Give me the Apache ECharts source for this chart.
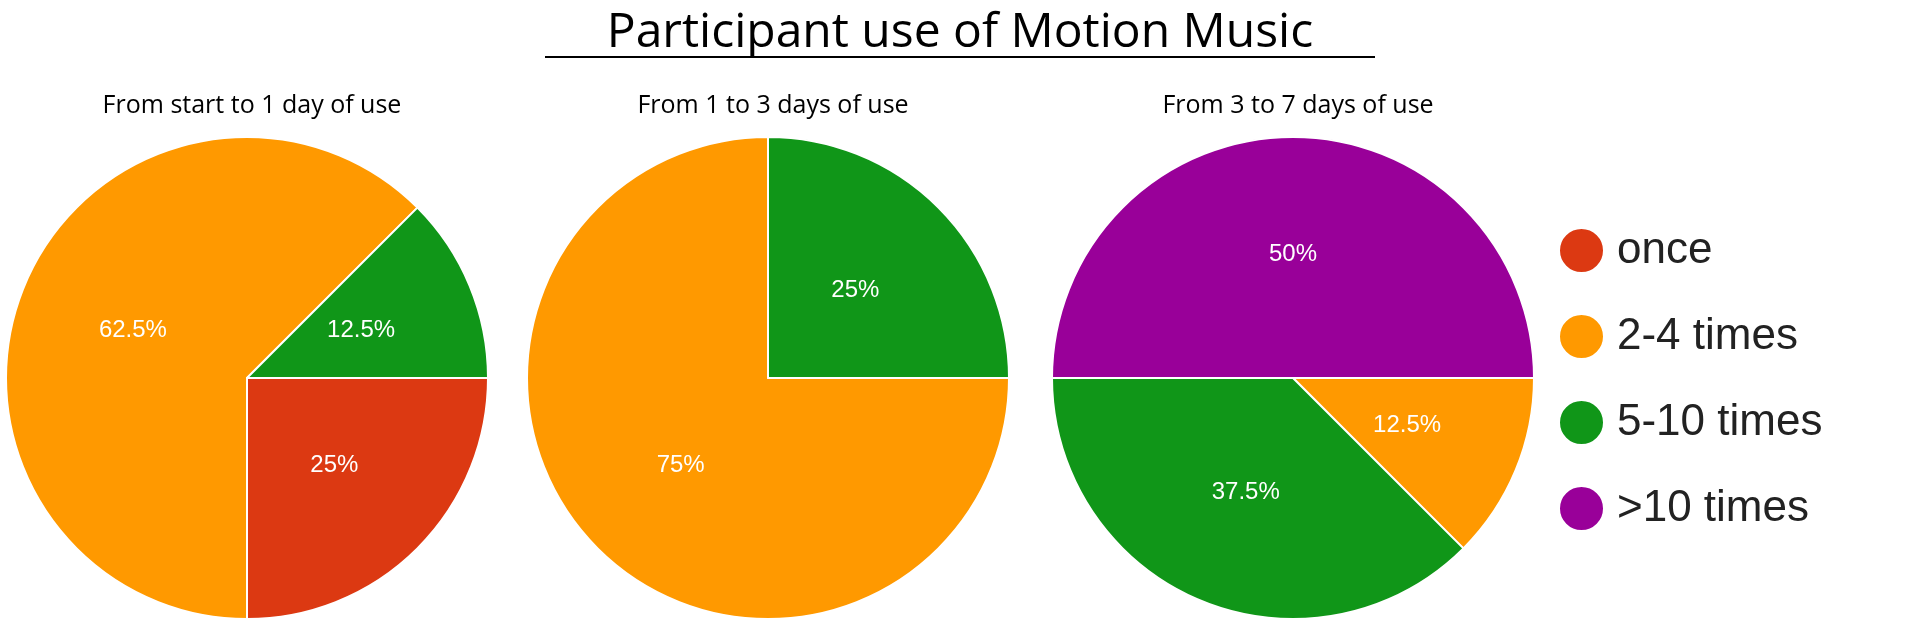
<!DOCTYPE html>
<html>
<head>
<meta charset="utf-8">
<script src="https://cdn.jsdelivr.net/npm/echarts@6/dist/echarts.min.js"></script>
<style>
  html, body { margin: 0; padding: 0; background: #fff; }
  #chart { width: 1920px; height: 627px; }
</style>
</head>
<body>
<div id="chart"></div>
<script>
// categories and colours
const categories = ['once', '2-4 times', '5-10 times', '>10 times'];
const colors = ['#dc3912', '#ff9900', '#109618', '#990099'];

// percent of participants per period
const periodTitles = ['From start to 1 day of use', 'From 1 to 3 days of use', 'From 3 to 7 days of use'];
const period1 = [25, 62.5, 12.5, 0];
const period2 = [0, 75, 25, 0];
const period3 = [0, 12.5, 37.5, 50];

const centersX = [247, 768, 1293];

function pieData (values) {
    return values
        .map((v, i) => ({ name: categories[i], value: v, itemStyle: { color: colors[i] } }))
        .filter(d => d.value > 0);
}

const chart = echarts.init(document.getElementById('chart'));

let titles = [{
    text: 'Participant use of Motion Music',
    left: 'center',
    top: 4,
    textStyle: {
        fontFamily: 'Open Sans',
        fontSize: 48,
        fontWeight: 'normal',
        color: '#000'
    }
}];
periodTitles.forEach((t, i) => {
    titles.push({
        text: t,
        left: centersX[i],
        top: 88,
        textAlign: 'center',
        textStyle: { fontFamily: 'Open Sans', fontSize: 25, fontWeight: 'normal', color: '#000' }
    });
});

const series = [period1, period2, period3].map((vals, i) => ({
    type: 'pie',
    center: [centersX[i], 378],
    radius: 241,
    startAngle: 0,
    clockwise: true,
    animation: false,
    itemStyle: { borderColor: '#fff', borderWidth: 2 },
    label: {
        position: 'inside',
        formatter: p => p.value + '%',
        color: '#fff',
        fontSize: 24,
        fontFamily: 'Liberation Sans'
    },
    labelLine: { show: false },
    emphasis: { disabled: true },
    data: pieData(vals)
}));

chart.setOption({
    title: titles,
    legend: {
        orient: 'vertical',
        left: 1553,
        top: 222,
        itemGap: 39,
        icon: 'circle',
        itemWidth: 45,
        itemHeight: 45,
        data: categories,
        textStyle: { fontSize: 44, fontFamily: 'Liberation Sans', color: '#222', padding: [0, 0, 0, 8] }
    },
    color: colors,
    series: series,
    graphic: [{
        type: 'rect',
        shape: { x: 545, y: 56, width: 830, height: 2 },
        style: { fill: '#000' }
    }]
});
</script>
</body>
</html>
